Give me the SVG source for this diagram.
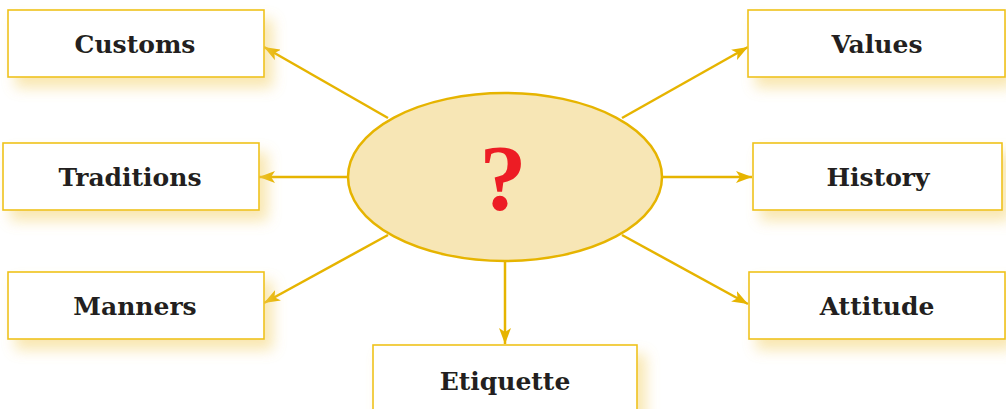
<svg xmlns="http://www.w3.org/2000/svg" width="1006" height="409" viewBox="0 0 1006 409">
<defs>
<filter id="glow" x="-20%" y="-40%" width="140%" height="190%">
<feGaussianBlur in="SourceAlpha" stdDeviation="7"/>
<feOffset dx="8" dy="10" result="b"/>
<feFlood flood-color="#f3cf62" flood-opacity="0.5"/>
<feComposite in2="b" operator="in"/>
<feMerge><feMergeNode/><feMergeNode in="SourceGraphic"/></feMerge>
</filter>
<marker id="ah" viewBox="0 0 16 12" refX="16" refY="6" markerWidth="16" markerHeight="12" markerUnits="userSpaceOnUse" orient="auto">
<path d="M0,0 L16,6 L0,12 L4,6 Z" fill="#e6b400"/>
</marker>
</defs>
<style>
.box{fill:#ffffff;stroke:#efc21c;stroke-width:1.6;filter:url(#glow)}
.lbl{font-family:"DejaVu Serif","Liberation Serif",serif;font-weight:bold;font-size:25px;fill:#231f20;text-anchor:middle}
.con{stroke:#e6b400;stroke-width:2.5;fill:none;marker-end:url(#ah)}
</style>
<rect width="1006" height="409" fill="#ffffff"/>
<g id="connectors">
<line class="con" x1="388" y1="118" x2="264" y2="47"/>
<line class="con" x1="622" y1="118" x2="748" y2="47"/>
<line class="con" x1="348" y1="177" x2="259" y2="177"/>
<line class="con" x1="662" y1="177" x2="752" y2="177"/>
<line class="con" x1="388" y1="235" x2="264" y2="303"/>
<line class="con" x1="622" y1="235" x2="748" y2="304"/>
<line class="con" x1="505" y1="261" x2="505" y2="344"/>
</g>
<g id="center">
<ellipse cx="505" cy="177" rx="157" ry="84" fill="#f7e6b5" stroke="#e6b400" stroke-width="2.5"/>
<text x="503" y="209" font-family="Liberation Serif,serif" font-weight="bold" font-size="94" fill="#ed1c24" text-anchor="middle">?</text>
</g>
<g id="customs"><rect class="box" x="8" y="10" width="256" height="67"/><text class="lbl" x="135" y="53">Customs</text></g>
<g id="traditions"><rect class="box" x="3" y="143" width="256" height="67"/><text class="lbl" x="130" y="186">Traditions</text></g>
<g id="manners"><rect class="box" x="8" y="272" width="256" height="67"/><text class="lbl" x="135" y="315">Manners</text></g>
<g id="values"><rect class="box" x="748" y="10" width="257" height="67"/><text class="lbl" x="877" y="53">Values</text></g>
<g id="history"><rect class="box" x="753" y="143" width="249" height="67"/><text class="lbl" x="878" y="186">History</text></g>
<g id="attitude"><rect class="box" x="749" y="272" width="256" height="67"/><text class="lbl" x="877" y="315">Attitude</text></g>
<g id="etiquette"><rect class="box" x="373" y="345" width="264" height="80"/><text class="lbl" x="505" y="390">Etiquette</text></g>
</svg>
